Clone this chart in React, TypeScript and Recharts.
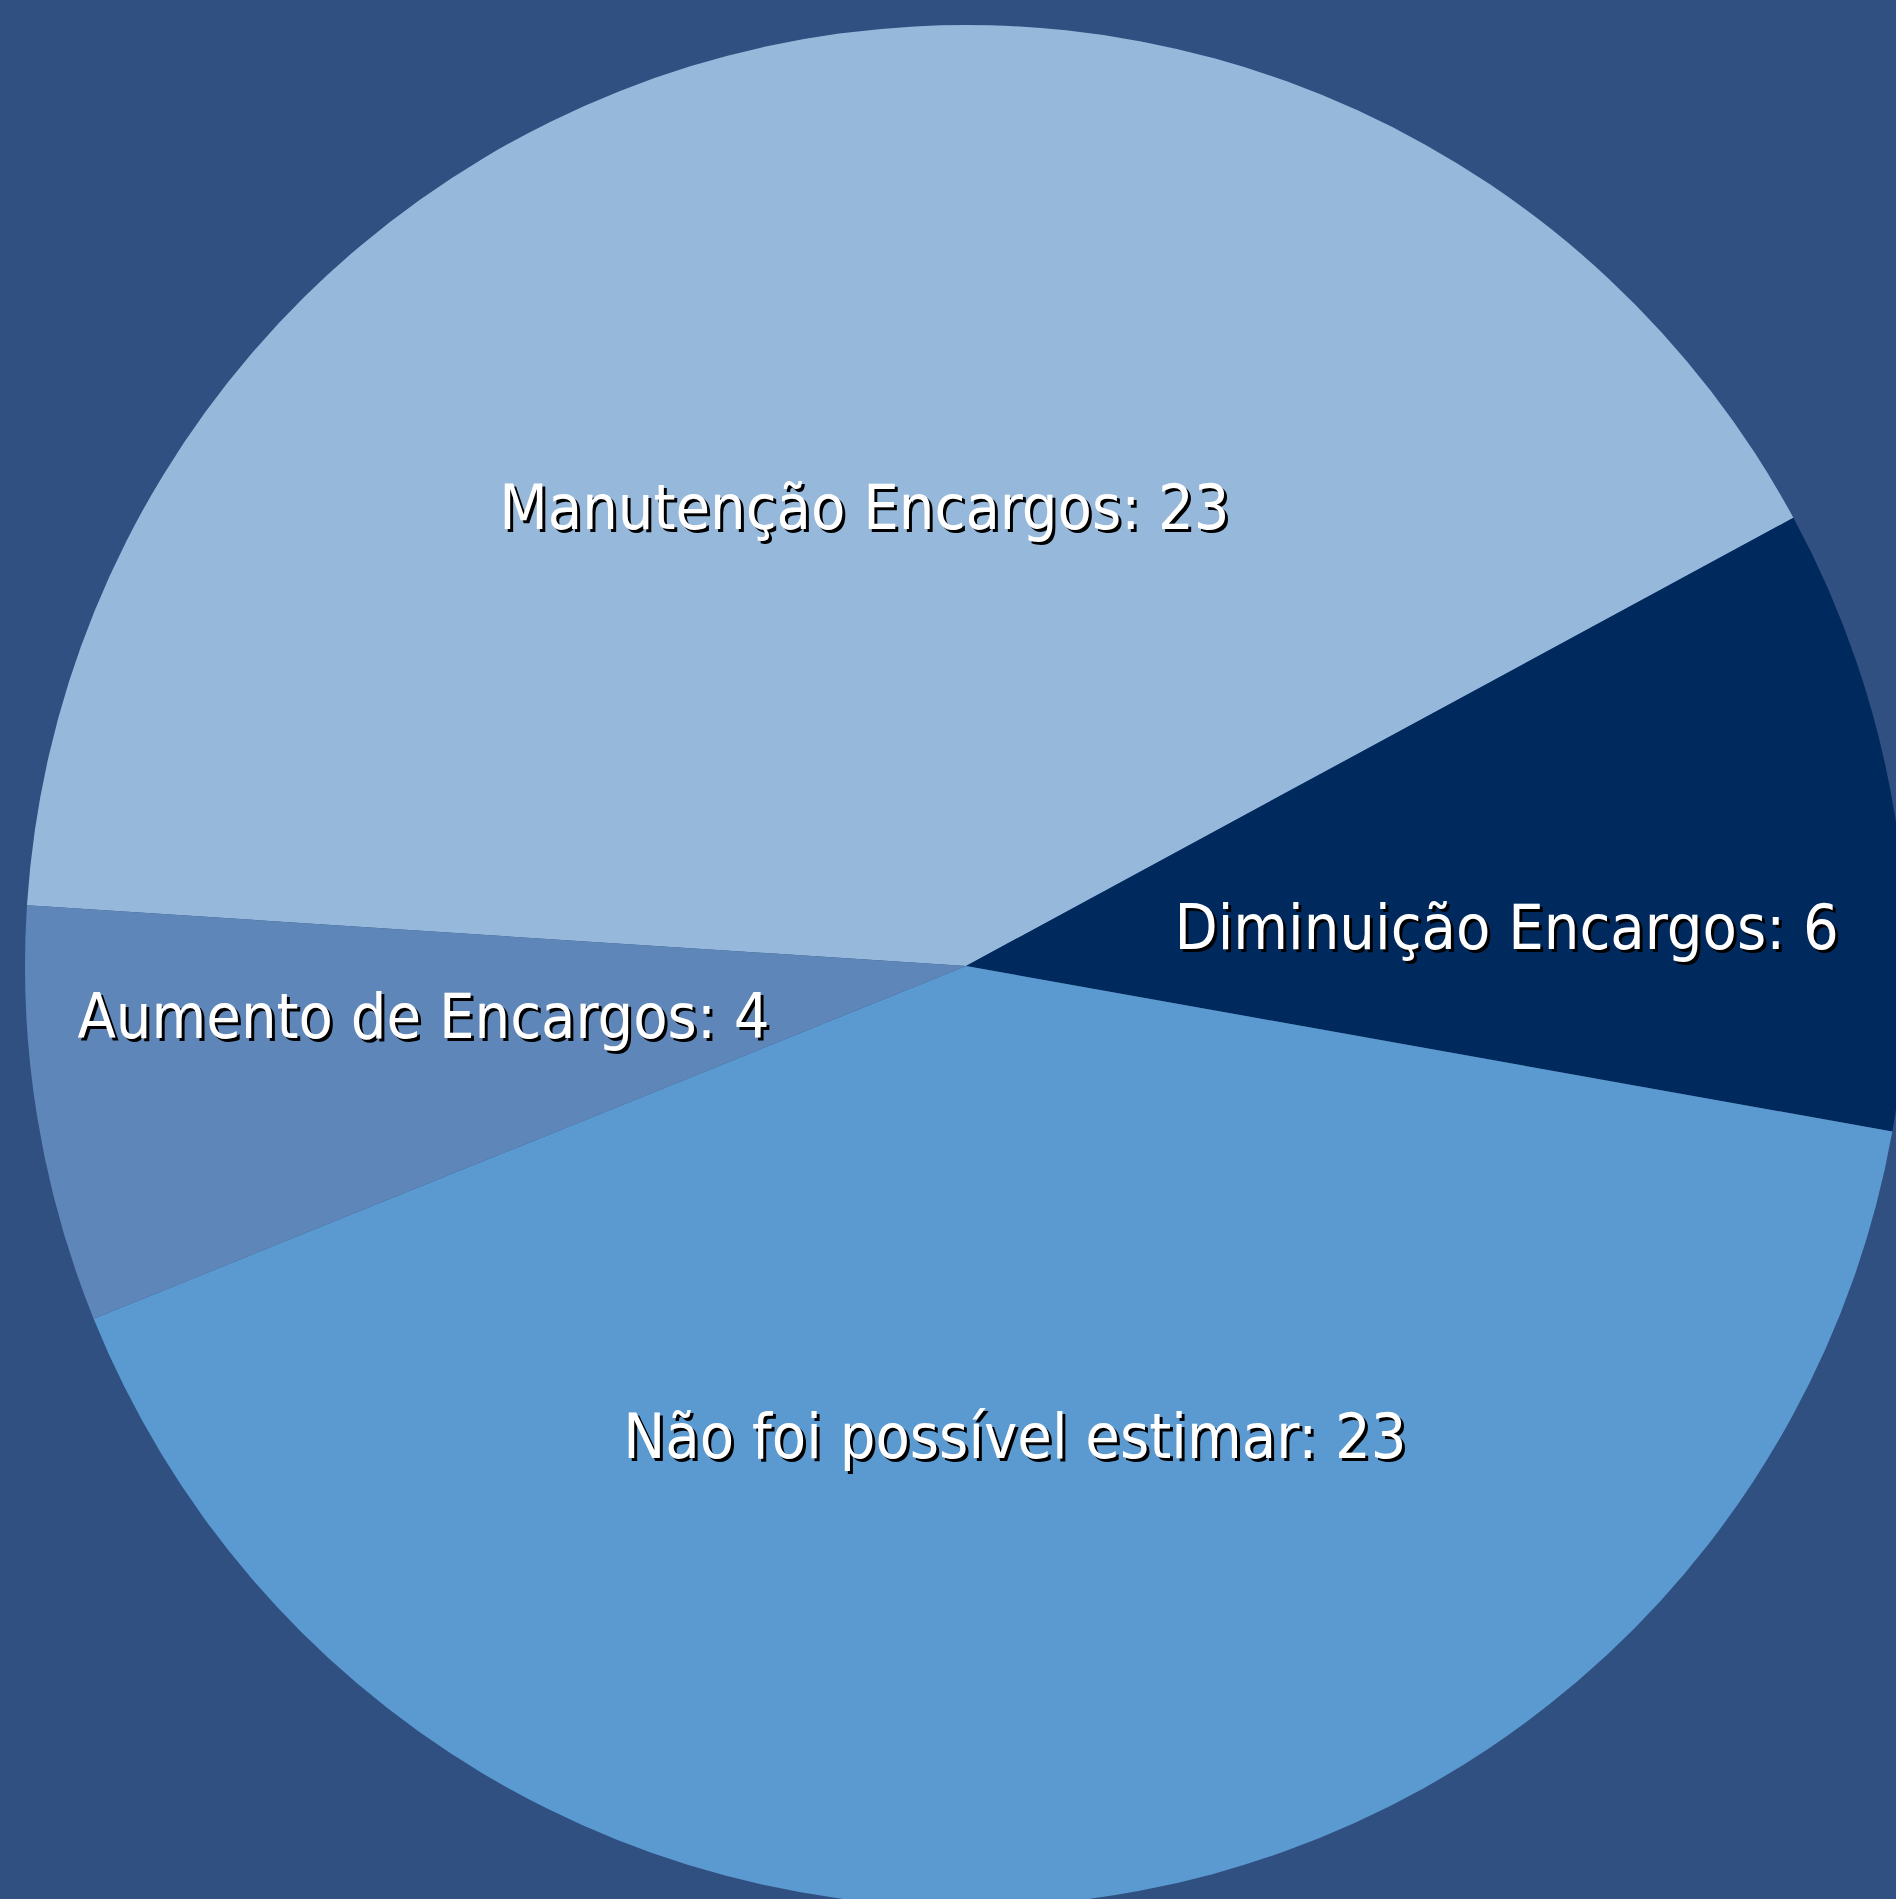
import React from 'react';
import { PieChart, Pie, Cell } from 'recharts';

const categories = [
  'Manutenção Encargos',
  'Diminuição Encargos',
  'Não foi possível estimar',
  'Aumento de Encargos',
];
const values = [23, 6, 23, 4];
const colors = ['#95B8DB', '#002A5E', '#5B9AD0', '#5F86B8'];

// where each label sits: fraction of the radius, and a turn away from the slice middle
const labelLayout = [
  { r: 0.5, turn: 0.1 },
  { r: 0.576, turn: -5.0 },
  { r: 0.502, turn: 0.0 },
  { r: 0.579, turn: -3.9 },
];

const data = categories.map((name, i) => ({ name, value: values[i] }));

const RAD = Math.PI / 180;
const FONT_SIZE = 62.5;

const renderLabel = (props: any) => {
  const { cx, cy, midAngle, outerRadius, index, name, value } = props;
  const lay = labelLayout[index];
  const a = (midAngle + lay.turn) * RAD;
  const x = cx + outerRadius * lay.r * Math.cos(a);
  const y = cy - outerRadius * lay.r * Math.sin(a) + FONT_SIZE * 0.36;
  const text = `${name}: ${value}`;
  const common = {
    textAnchor: 'middle' as const,
    fontFamily: '"DejaVu Sans Condensed", "DejaVu Sans", sans-serif',
    fontSize: FONT_SIZE,
  };
  return (
    <g key={`lbl-${index}`}>
      <text x={x + 3} y={y + 3} fill="#000000" {...common}>{text}</text>
      <text x={x} y={y} fill="#ffffff" {...common}>{text}</text>
    </g>
  );
};

export default function App() {
  return (
    <div style={{ position: 'fixed', top: 0, left: 0, width: 1896, height: 1899, background: '#2F5080' }}>
      <PieChart width={1896} height={1899} margin={{ top: 0, right: 0, bottom: 0, left: 0 }}>
        <Pie
          data={data}
          dataKey="value"
          nameKey="name"
          cx={966}
          cy={966}
          outerRadius={941}
          startAngle={176.3}
          endAngle={-183.7}
          stroke="none"
          label={renderLabel}
          labelLine={false}
          isAnimationActive={false}
        >
          {data.map((d, i) => (
            <Cell key={d.name} fill={colors[i]} />
          ))}
        </Pie>
      </PieChart>
    </div>
  );
}
